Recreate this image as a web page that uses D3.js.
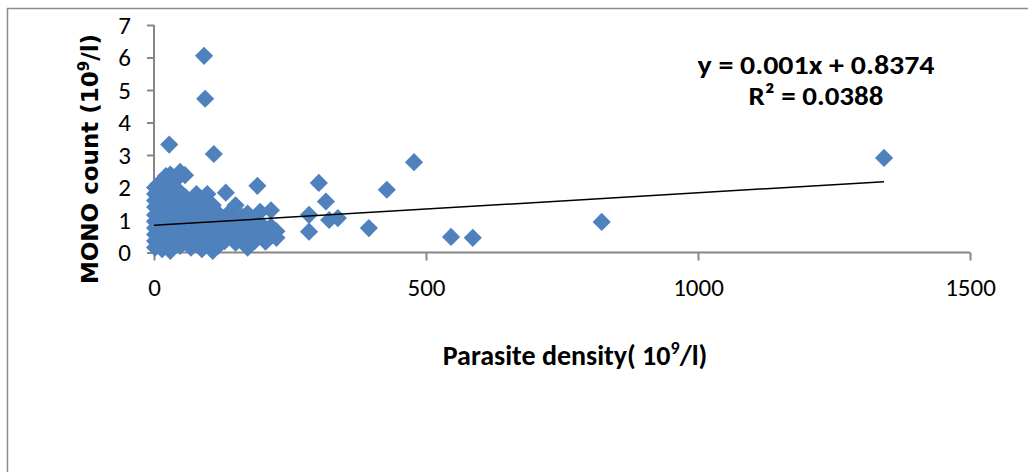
<!DOCTYPE html>
<html>
<head>
<meta charset="utf-8">
<script src="https://cdn.jsdelivr.net/npm/d3@7"></script>
<style>
  body { margin: 0; background: #fff; }
  svg text { font-family: Carlito, Lato, "Liberation Sans", sans-serif; }
</style>
</head>
<body>
<div id="chart"></div>
<script>
// parasite density (x) and MONO count (y)
var densityValues = [
  92, 94, 28, 110, 1342, 478, 428, 303, 316, 285, 322, 338, 285, 395, 546, 586, 823,
  190, 132, 48, 57, 44,
  2, 2, 2, 2, 2, 2, 2, 2, 2, 2,
  8, 8, 8, 8, 8, 8, 8, 8, 8,
  15, 15, 15, 15, 15, 15, 15, 15, 15, 15,
  22, 22, 22, 22, 22, 22, 22, 22,
  30, 30, 30, 30, 30, 30, 30, 30,
  38, 38, 38, 38, 38, 38, 38,
  48, 48, 48, 48, 48, 48,
  58, 58, 58, 58, 58,
  68, 68, 68, 68, 68,
  78, 78, 78, 78, 78,
  88, 88, 88, 88, 88,
  98, 98, 98, 98, 98,
  108, 108, 108, 108, 108,
  118, 118, 118, 118,
  130, 130, 130,
  140, 140, 140,
  150, 150, 150, 150,
  162, 162, 162,
  172, 172, 172, 172,
  185, 185, 185,
  195, 195, 195,
  205, 205,
  215, 215, 215,
  225, 225
];
var monoValues = [
  6.05, 4.73, 3.32, 3.03, 2.91, 2.78, 1.93, 2.14, 1.57, 1.16, 1.0, 1.06, 0.64, 0.75, 0.48, 0.45, 0.94,
  2.05, 1.84, 2.48, 2.38, 2.3,
  0.15, 0.35, 0.55, 0.75, 0.95, 1.15, 1.4, 1.6, 1.8, 2.0,
  0.25, 0.45, 0.65, 0.85, 1.05, 1.3, 1.5, 1.75, 2.1,
  0.1, 0.4, 0.6, 0.8, 1.0, 1.2, 1.45, 1.7, 1.95, 2.2,
  0.2, 0.5, 0.9, 1.1, 1.35, 1.6, 1.85, 2.35,
  0.05, 0.3, 0.7, 1.0, 1.25, 1.5, 2.05, 2.4,
  0.4, 0.6, 0.85, 1.15, 1.4, 1.75, 2.0,
  0.2, 0.5, 0.95, 1.3, 1.6, 1.85,
  0.35, 0.7, 1.05, 1.45, 1.7,
  0.15, 0.55, 0.9, 1.2, 1.55,
  0.3, 0.65, 1.0, 1.35, 1.8,
  0.1, 0.45, 0.8, 1.15, 1.65,
  0.25, 0.6, 0.95, 1.3, 1.8,
  0.05, 0.4, 0.75, 1.1, 1.45,
  0.2, 0.55, 0.9, 1.2,
  0.35, 0.7, 1.05,
  0.5, 0.85, 1.25,
  0.3, 0.65, 1.0, 1.45,
  0.45, 0.8, 1.1,
  0.15, 0.6, 0.95, 1.2,
  0.35, 0.75, 1.05,
  0.55, 0.9, 1.25,
  0.33, 0.7,
  0.5, 0.8, 1.3,
  0.45, 0.65
];
var xTicks = [0, 500, 1000, 1500];
var yTicks = [0, 1, 2, 3, 4, 5, 6, 7];
var trendSlope = 0.001;
var trendIntercept = 0.8374;
var trendRange = [0, 1342];
var equationLines = ["y = 0.001x + 0.8374", "R² = 0.0388"];

var svgWidth = 1028, svgHeight = 472;

var svg = d3.select("#chart").append("svg")
  .attr("width", svgWidth)
  .attr("height", svgHeight);

// chart area frame
svg.append("rect")
  .attr("x", 7.5).attr("y", 8.5)
  .attr("width", 1040).attr("height", 480)
  .attr("fill", "#fff")
  .attr("stroke", "#8c8c8c")
  .attr("stroke-width", 1.5);

var xScale = d3.scaleLinear().domain([0, 1500]).range([154, 970]);
var yScale = d3.scaleLinear().domain([0, 7]).range([252.5, 25]);

// y axis
var yAxis = svg.append("g")
  .attr("transform", "translate(154,0)")
  .call(d3.axisLeft(yScale).tickValues(yTicks).tickFormat(d3.format("d")).tickSize(7).tickPadding(16));
yAxis.select(".domain").attr("stroke", "#868686").attr("stroke-width", 2).attr("d", "M0," + yScale(7) + "V" + yScale(0));
yAxis.selectAll(".tick line").attr("stroke", "#868686").attr("stroke-width", 2);
yAxis.selectAll(".tick text").attr("font-size", 25).attr("fill", "#000")
  .style("font-family", "Carlito, Lato, sans-serif");

// x axis
var xAxis = svg.append("g")
  .attr("transform", "translate(0," + yScale(0) + ")")
  .call(d3.axisBottom(xScale).tickValues(xTicks).tickFormat(d3.format("d")).tickSize(8).tickPadding(18));
xAxis.select(".domain").attr("stroke", "#868686").attr("stroke-width", 2).attr("d", "M" + xScale(0) + ",0H" + xScale(1500));
xAxis.selectAll(".tick line").attr("stroke", "#868686").attr("stroke-width", 2);
xAxis.selectAll(".tick text").attr("font-size", 25).attr("fill", "#000")
  .style("font-family", "Carlito, Lato, sans-serif");

// points
var points = densityValues.map(function(d, i) { return { x: d, y: monoValues[i] }; });
var diamond = d3.symbol().type(d3.symbolSquare).size(165);

svg.append("g").selectAll("path")
  .data(points)
  .enter()
  .append("path")
  .attr("d", diamond)
  .attr("transform", function(d) { return "translate(" + xScale(d.x) + "," + yScale(d.y) + ") rotate(45)"; })
  .attr("fill", "#4f81bd");

// linear trend line
var trendLine = d3.line()
  .x(function(d) { return xScale(d); })
  .y(function(d) { return yScale(trendIntercept + trendSlope * d); });
svg.append("path")
  .datum(trendRange)
  .attr("d", trendLine)
  .attr("fill", "none")
  .attr("stroke", "#000")
  .attr("stroke-width", 1.5);

// equation label
var eqWidths = [237, 135];
svg.append("g").selectAll("text")
  .data(equationLines)
  .enter()
  .append("text")
  .attr("x", 816)
  .attr("y", function(d, i) { return 74 + i * 31; })
  .attr("text-anchor", "middle")
  .attr("font-size", 27)
  .attr("font-weight", "bold")
  .attr("textLength", function(d, i) { return eqWidths[i]; })
  .attr("lengthAdjust", "spacingAndGlyphs")
  .text(function(d) { return d; });

// axis titles
var xTitle = svg.append("text")
  .attr("x", 575)
  .attr("y", 365)
  .attr("text-anchor", "middle")
  .attr("font-size", 28)
  .attr("font-weight", "bold");
xTitle.append("tspan").text("Parasite density( 10");
xTitle.append("tspan").attr("font-size", 18).attr("dy", -11).text("9");
xTitle.append("tspan").attr("dy", 11).text("/l)");

var yTitle = svg.append("text")
  .attr("transform", "translate(98,159) rotate(-90)")
  .attr("text-anchor", "middle")
  .attr("font-size", 23)
  .attr("font-weight", "bold")
  .style("font-family", "Verdana, 'DejaVu Sans', sans-serif");
yTitle.append("tspan").text("MONO count (10");
yTitle.append("tspan").attr("font-size", 15).attr("dy", -9).text("9");
yTitle.append("tspan").attr("dy", 9).text("/l)");
</script>
</body>
</html>
